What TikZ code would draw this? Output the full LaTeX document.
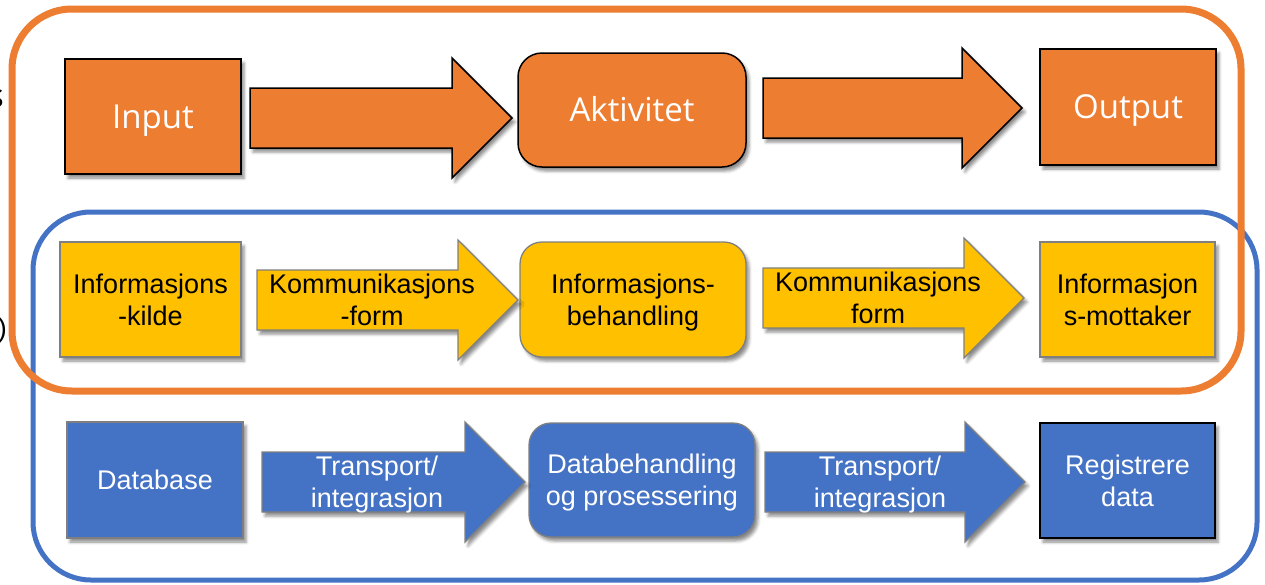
\documentclass[tikz,border=0pt]{standalone}
\usepackage{fontspec}
\setmainfont{Liberation Sans}
\newfontfamily\segoe{Open Sans}
\usetikzlibrary{shadows.blur}
\definecolor{orng}{HTML}{ED7D31}
\definecolor{ylw}{HTML}{FFC000}
\definecolor{blu}{HTML}{4472C4}
\definecolor{edgegray}{HTML}{7F7F7F}
\tikzset{
  shade/.style={blur shadow={shadow xshift=3pt, shadow yshift=-4pt, shadow blur radius=3pt, shadow opacity=45}},
  topfont/.style={font=\segoe\fontsize{33}{38}\selectfont, text=white, text height=23.6pt, text depth=0pt},
  onefont/.style={font=\fontsize{27}{32}\selectfont, text height=19.3pt, text depth=0pt},
  twofont/.style={font=\fontsize{27}{32}\selectfont, text height=51.3pt, text depth=0pt},
  box/.style={shade, inner sep=0pt, align=center},
  obox/.style={box, draw=black, line width=1.5pt, fill=orng, topfont},
  ybox/.style={box, draw=edgegray, line width=1.3pt, fill=ylw, text=black},
  bbox/.style={box, draw=edgegray, line width=1.3pt, fill=blu, text=white},
  oarrow/.style={shade, draw=black, line width=1.5pt, fill=orng, line join=miter},
  yarrow/.style={shade, draw=edgegray, line width=1.3pt, fill=ylw, line join=miter},
  barrow/.style={shade, draw=edgegray, line width=1.3pt, fill=blu, line join=miter},
  ytext/.style={twofont, align=center, inner sep=0pt, text=black},
  btext/.style={twofont, align=center, inner sep=0pt, text=white},
}
% #1 name of text node, #2 tail x, #3 tip x, #4 centre y, #5 arrow style, #6 text style, #7 text
\newcommand\blockarrow[7]{%
  \draw[#5] (#2,#4-30) -- (#3-60,#4-30) -- (#3-60,#4-60) -- (#3,#4)
     -- (#3-60,#4+60) -- (#3-60,#4+30) -- (#2,#4+30) -- cycle;
  \node[#6] (#1) at (#2+115,#4) {#7};
}
\begin{document}
\begin{tikzpicture}[x=1pt, y=-1pt]
\useasboundingbox (0,0) rectangle (1265,584);
\clip (0,0) rectangle (1265,584);

% containers
\draw[blu, line width=5pt, rounded corners=58pt] (33,212) rectangle (1257,580);
\draw[orng, line width=7pt, rounded corners=60pt] (12,9) rectangle (1241,391);

% clipped fragments at the left edge
\node[anchor=base east, inner sep=0pt, font=\segoe\fontsize{33}{38}\selectfont] (sfrag) at (4,107) {s};
\node[anchor=base east, inner sep=0pt, font=\fontsize{27}{32}\selectfont] (pfrag) at (7,337) {)};

% top row
\node[obox, minimum width=176pt, minimum height=115pt] (input) at (153,116.5) {Input};
\node[obox, rounded corners=24pt, minimum width=228pt, minimum height=114pt] (akt) at (632,110) {Aktivitet};
\node[obox, minimum width=176pt, minimum height=116pt] (output) at (1128,107) {Output};
\draw[oarrow] (250,88) -- (452,88) -- (452,58) -- (512,118) -- (452,178) -- (452,148) -- (250,148) -- cycle;
\draw[oarrow] (763,78) -- (962,78) -- (962,48) -- (1022,108) -- (962,168) -- (962,138) -- (763,138) -- cycle;

% middle row
\node[ybox, twofont, minimum width=181pt, minimum height=115pt] (kilde) at (150.5,299.5) {Informasjons\\-kilde};
\node[ybox, twofont, rounded corners=22pt, minimum width=226pt, minimum height=115pt] (behandling) at (633,299.5) {Informasjons-\\behandling};
\node[ybox, twofont, minimum width=175pt, minimum height=115pt] (mottaker) at (1127.5,299.5) {Informasjon\\s-mottaker};
\blockarrow{kform1}{257}{518}{300}{yarrow}{ytext}{Kommunikasjons\\-form}
\blockarrow{kform2}{763}{1024}{298}{yarrow}{ytext}{Kommunikasjons\\form}

% bottom row
\node[bbox, onefont, minimum width=176pt, minimum height=116pt] (database) at (155,480) {Database};
\node[bbox, twofont, rounded corners=22pt, minimum width=226pt, minimum height=114pt] (prosess) at (642,480) {Databehandling\\og prosessering};
\node[bbox, twofont, draw=black, minimum width=175pt, minimum height=115pt] (registrere) at (1127.5,480.5) {Registrere\\data};
\blockarrow{trans1}{262}{525}{482}{barrow}{btext}{Transport/\\integrasjon}
\blockarrow{trans2}{765}{1025}{482}{barrow}{btext}{Transport/\\integrasjon}
\end{tikzpicture}
\end{document}
